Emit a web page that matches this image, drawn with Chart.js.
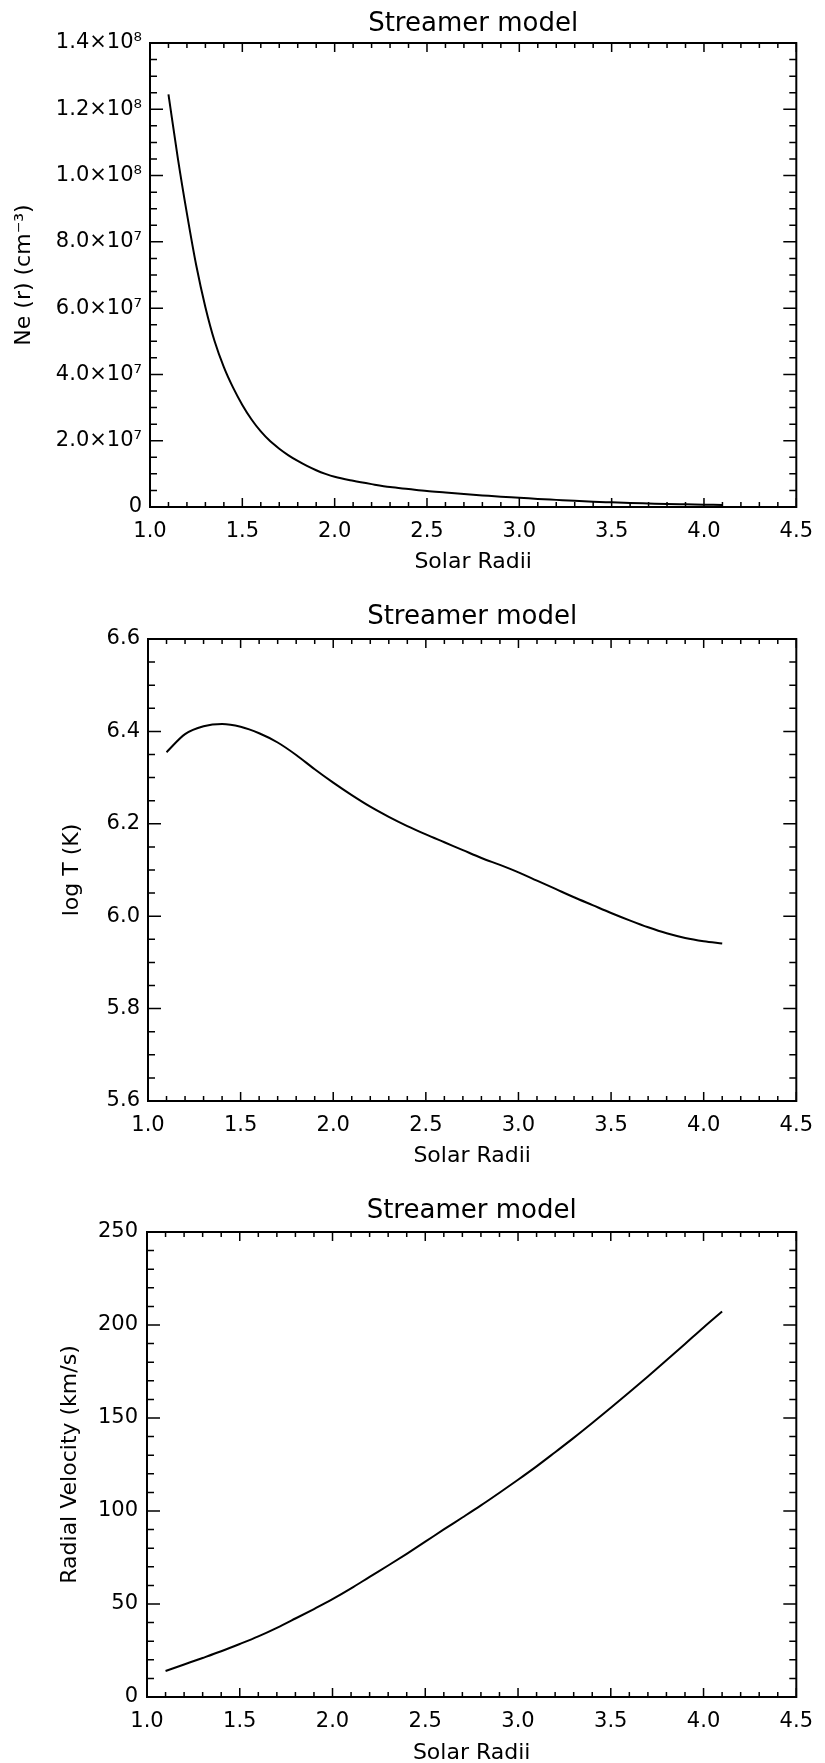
<!DOCTYPE html>
<html>
<head>
<meta charset="utf-8">
<script src="https://cdn.jsdelivr.net/npm/chart.js@4.4.1/dist/chart.umd.min.js"></script>
<style>
  body { margin: 0; background: #fff; }
  canvas { display: block; }
</style>
</head>
<body>
<canvas id="neChart" width="825" height="590"></canvas>
<canvas id="tempChart" width="825" height="595"></canvas>
<canvas id="velChart" width="825" height="578"></canvas>
<script>
// values
// density falls steeply near the sun, so it is read more finely there
var neRadii = [1.1, 1.15, 1.2, 1.25, 1.3, 1.35, 1.4, 1.45, 1.5, 1.55,
  1.6, 1.65, 1.7, 1.75, 1.8, 1.85, 1.9, 1.95, 2.0,
  2.1, 2.2, 2.3, 2.4, 2.5, 2.6, 2.7, 2.8, 2.9, 3.0,
  3.1, 3.2, 3.3, 3.4, 3.5, 3.6, 3.7, 3.8, 3.9, 4.0, 4.1];

var density = [1.245e8, 1.055e8, 8.85e7, 7.3e7, 6.03e7, 5.0e7, 4.22e7, 3.6e7, 3.08e7, 2.64e7,
  2.28e7, 1.99e7, 1.76e7, 1.56e7, 1.39e7, 1.24e7, 1.11e7, 1.0e7, 9.1e6,
  7.9e6, 6.9e6, 6.0e6, 5.4e6, 4.8e6, 4.35e6, 3.9e6, 3.5e6, 3.1e6, 2.8e6,
  2.45e6, 2.15e6, 1.85e6, 1.6e6, 1.4e6, 1.2e6, 1.05e6, 9.0e5, 8.0e5, 7.0e5, 6.0e5];

var radii = [1.1, 1.2, 1.3, 1.4, 1.5, 1.6, 1.7, 1.8, 1.9, 2.0,
  2.1, 2.2, 2.3, 2.4, 2.5, 2.6, 2.7, 2.8, 2.9, 3.0,
  3.1, 3.2, 3.3, 3.4, 3.5, 3.6, 3.7, 3.8, 3.9, 4.0, 4.1];

var logTemp = [6.355, 6.394, 6.411, 6.416, 6.410, 6.396, 6.376, 6.349, 6.318, 6.289,
  6.262, 6.237, 6.215, 6.195, 6.177, 6.160, 6.143, 6.126, 6.111, 6.095,
  6.077, 6.059, 6.041, 6.024, 6.007, 5.991, 5.976, 5.963, 5.953, 5.946, 5.941];

var velocity = [14.0, 17.5, 21.0, 24.6, 28.5, 32.6, 37.2, 42.2, 47.3, 52.6,
  58.4, 64.6, 70.7, 77.0, 83.5, 90.1, 96.5, 103.0, 109.8, 116.8,
  124.0, 131.6, 139.3, 147.3, 155.5, 163.8, 172.3, 181.0, 189.8, 198.7, 207.3];

var xTickLabels = ["1.0", "1.5", "2.0", "2.5", "3.0", "3.5", "4.0", "4.5"];
var neTickLabels = ["0", "2.0\u00d710\u2077", "4.0\u00d710\u2077", "6.0\u00d710\u2077",
  "8.0\u00d710\u2077", "1.0\u00d710\u2078", "1.2\u00d710\u2078", "1.4\u00d710\u2078"];
var tempTickLabels = ["5.6", "5.8", "6.0", "6.2", "6.4", "6.6"];
var velTickLabels = ["0", "50", "100", "150", "200", "250"];

Chart.defaults.font.family = "'DejaVu Sans', sans-serif";
Chart.defaults.color = "#000";

// IDL style box with inward major/minor ticks on all four sides
var idlFrame = {
  id: "idlFrame",
  afterDatasetsDraw: function (chart, args, opts) {
    var ctx = chart.ctx, a = chart.chartArea;
    var x = chart.scales.x, y = chart.scales.y;
    ctx.save();
    ctx.strokeStyle = "#000";
    ctx.lineWidth = 2;
    ctx.strokeRect(a.left, a.top, a.right - a.left, a.bottom - a.top);
    ctx.lineWidth = 1.5;
    ctx.beginPath();
    var n = Math.round((x.max - x.min) / opts.xMinor);
    for (var i = 0; i <= n; i++) {
      var px = x.getPixelForValue(x.min + i * opts.xMinor);
      var len = i % opts.xEvery === 0 ? 9 : 5;
      ctx.moveTo(px, a.bottom); ctx.lineTo(px, a.bottom - len);
      ctx.moveTo(px, a.top); ctx.lineTo(px, a.top + len);
    }
    n = Math.round((y.max - y.min) / opts.yMinor);
    for (i = 0; i <= n; i++) {
      var py = y.getPixelForValue(y.min + i * opts.yMinor);
      len = i % opts.yEvery === 0 ? 13 : 7;
      ctx.moveTo(a.left, py); ctx.lineTo(a.left + len, py);
      ctx.moveTo(a.right, py); ctx.lineTo(a.right - len, py);
    }
    ctx.stroke();
    ctx.restore();
  }
};
Chart.register(idlFrame);

function points(xs, ys) {
  return xs.map(function (r, i) { return { x: r, y: ys[i] }; });
}

function panel(id, p) {
  return new Chart(document.getElementById(id), {
    type: "line",
    data: {
      datasets: [{
        data: points(p.radii, p.values),
        borderColor: "#000",
        borderWidth: 2,
        pointRadius: 0,
        cubicInterpolationMode: "monotone",
        fill: false,
      }],
    },
    options: {
      responsive: false,
      animation: false,
      layout: { padding: { top: p.padTop, right: p.padRight, bottom: 0, left: 0 } },
      plugins: {
        legend: { display: false },
        tooltip: { enabled: false },
        title: {
          display: true,
          fullSize: false,
          text: "Streamer model",
          font: { size: 26, weight: "normal" },
          padding: { top: 0, bottom: p.titleGap },
        },
        idlFrame: { xMinor: 0.1, xEvery: 5, yMinor: p.yMinor, yEvery: p.yEvery },
      },
      scales: {
        x: {
          type: "linear",
          min: 1,
          max: 4.5,
          grid: { display: false, drawTicks: false },
          border: { display: false },
          ticks: {
            stepSize: 0.5,
            padding: 12,
            font: { size: 21 },
            callback: function (v, i) { return xTickLabels[i]; },
          },
          title: {
            display: true,
            text: "Solar Radii",
            font: { size: 22 },
            padding: { top: 0, bottom: p.xTitleGap },
          },
          afterFit: function (s) { s.height = p.xHeight; },
        },
        y: {
          min: p.min,
          max: p.max,
          grid: { display: false, drawTicks: false },
          border: { display: false },
          ticks: {
            stepSize: p.step,
            padding: p.tickPad,
            font: { size: 21 },
            callback: function (v, i) { return p.labels[i]; },
          },
          title: {
            display: true,
            text: p.yTitle,
            font: { size: 22 },
            padding: { top: p.yTitlePad, bottom: 0 },
          },
          afterFit: function (s) { s.width = p.left; },
        },
      },
    },
  });
}

//chart 1 - electron density
panel("neChart", {
  radii: neRadii, values: density, min: 0, max: 1.4e8, step: 2e7, labels: neTickLabels,
  yMinor: 5e6, yEvery: 4, yTitle: "Ne (r) (cm\u207b\u00b3)",
  left: 150, padRight: 21, padTop: 8.4, titleGap: 3.4,
  xHeight: 83, xTitleGap: 14.8, tickPad: 8, yTitlePad: 11,
});

//chart 2 - temperature
panel("tempChart", {
  radii: radii, values: logTemp, min: 5.6, max: 6.6, step: 0.2, labels: tempTickLabels,
  yMinor: 0.05, yEvery: 4, yTitle: "log T (K)",
  left: 148, padRight: 22, padTop: 11.4, titleGap: 6.4,
  xHeight: 84, xTitleGap: 15.8, tickPad: 8, yTitlePad: 59,
});

//chart 3 - radial velocity
panel("velChart", {
  radii: radii, values: velocity, min: 0, max: 250, step: 50, labels: velTickLabels,
  yMinor: 10, yEvery: 5, yTitle: "Radial Velocity (km/s)",
  left: 147, padRight: 22, padTop: 10.4, titleGap: 5.4,
  xHeight: 66, xTitleGap: -3, tickPad: 9, yTitlePad: 57,
});
</script>
</body>
</html>
